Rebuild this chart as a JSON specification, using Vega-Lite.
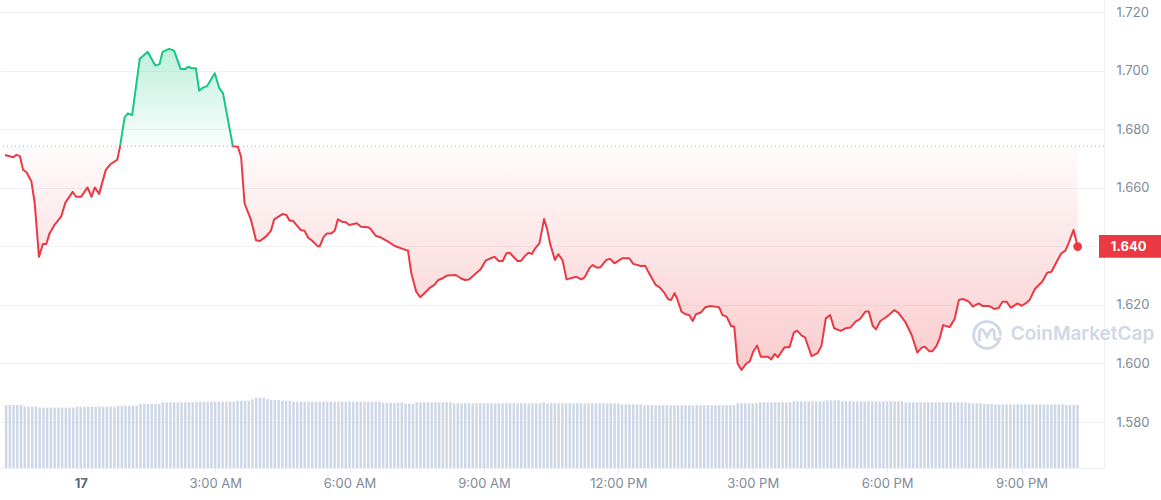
{
"$schema": "https://vega.github.io/schema/vega-lite/v6.json",
"width": 1104, "height": 468, "autosize": {"type": "none"}, "padding": {"left": 0, "top": 0, "right": 57, "bottom": 32},
"background": "white",
"config": {"view": {"stroke": null}, "font": "Inter"},
"datasets": {
"price": [
{"t":-101.5,"p":1.6712},{"t":-90.5,"p":1.6704},{"t":-86.0,"p":1.6712},{"t":-81.6,"p":1.6708},{"t":-77.3,"p":1.6661},{"t":-72.7,"p":1.6653},{"t":-66.1,"p":1.6621},{"t":-61.7,"p":1.6547},{"t":-56.0,"p":1.6364},{"t":-50.7,"p":1.6408},{"t":-46.2,"p":1.6408},{"t":-41.8,"p":1.6444},{"t":-35.2,"p":1.6473},{"t":-26.3,"p":1.6501},{"t":-20.6,"p":1.6549},{"t":-10.9,"p":1.6586},{"t":-6.4,"p":1.6569},{"t":0.3,"p":1.6569},{"t":9.0,"p":1.6601},{"t":14.3,"p":1.6569},{"t":18.9,"p":1.6601},{"t":24.6,"p":1.6579},{"t":33.5,"p":1.6661},{"t":40.1,"p":1.6681},{"t":48.8,"p":1.6695},{"t":52.4,"p":1.6738},{"t":58.7,"p":1.6840},{"t":63.1,"p":1.6854},{"t":68.8,"p":1.6848},{"t":79.0,"p":1.7040},{"t":89.6,"p":1.7064},{"t":99.8,"p":1.7017},{"t":105.5,"p":1.7022},{"t":109.5,"p":1.7064},{"t":118.4,"p":1.7074},{"t":125.0,"p":1.7068},{"t":133.8,"p":1.7005},{"t":139.6,"p":1.7005},{"t":144.0,"p":1.7013},{"t":148.4,"p":1.7008},{"t":154.2,"p":1.7008},{"t":158.6,"p":1.6931},{"t":163.9,"p":1.6942},{"t":169.2,"p":1.6947},{"t":179.5,"p":1.6991},{"t":185.2,"p":1.6942},{"t":190.5,"p":1.6922},{"t":203.7,"p":1.6742},{"t":210.4,"p":1.6740},{"t":214.8,"p":1.6704},{"t":219.3,"p":1.6547},{"t":228.0,"p":1.6490},{"t":234.7,"p":1.6421},{"t":240.0,"p":1.6418},{"t":247.9,"p":1.6433},{"t":254.6,"p":1.6453},{"t":259.1,"p":1.6492},{"t":270.1,"p":1.6510},{"t":275.4,"p":1.6507},{"t":279.8,"p":1.6487},{"t":284.3,"p":1.6487},{"t":294.4,"p":1.6456},{"t":299.7,"p":1.6453},{"t":304.6,"p":1.6429},{"t":309.9,"p":1.6419},{"t":317.9,"p":1.6399},{"t":320.1,"p":1.6401},{"t":325.5,"p":1.6433},{"t":329.8,"p":1.6444},{"t":335.5,"p":1.6444},{"t":340.1,"p":1.6453},{"t":344.4,"p":1.6492},{"t":349.7,"p":1.6484},{"t":355.1,"p":1.6482},{"t":359.4,"p":1.6473},{"t":369.7,"p":1.6479},{"t":375.4,"p":1.6467},{"t":385.2,"p":1.6465},{"t":388.6,"p":1.6458},{"t":394.9,"p":1.6436},{"t":402.8,"p":1.6429},{"t":411.7,"p":1.6416},{"t":420.5,"p":1.6401},{"t":429.4,"p":1.6393},{"t":438.3,"p":1.6385},{"t":442.7,"p":1.6308},{"t":449.3,"p":1.6245},{"t":454.6,"p":1.6226},{"t":460.3,"p":1.6240},{"t":468.3,"p":1.6260},{"t":473.6,"p":1.6268},{"t":478.9,"p":1.6285},{"t":484.7,"p":1.6291},{"t":490.4,"p":1.6300},{"t":502.4,"p":1.6302},{"t":509.0,"p":1.6291},{"t":514.3,"p":1.6285},{"t":520.0,"p":1.6287},{"t":527.6,"p":1.6304},{"t":535.6,"p":1.6322},{"t":542.2,"p":1.6351},{"t":548.8,"p":1.6359},{"t":554.1,"p":1.6364},{"t":559.9,"p":1.6350},{"t":565.2,"p":1.6350},{"t":570.1,"p":1.6376},{"t":574.5,"p":1.6378},{"t":580.7,"p":1.6361},{"t":585.1,"p":1.6350},{"t":589.6,"p":1.6350},{"t":595.3,"p":1.6368},{"t":599.7,"p":1.6378},{"t":604.2,"p":1.6374},{"t":608.6,"p":1.6393},{"t":614.3,"p":1.6410},{"t":620.5,"p":1.6493},{"t":624.9,"p":1.6456},{"t":628.5,"p":1.6410},{"t":635.1,"p":1.6353},{"t":639.5,"p":1.6373},{"t":645.3,"p":1.6353},{"t":650.6,"p":1.6287},{"t":663.9,"p":1.6296},{"t":670.5,"p":1.6287},{"t":674.9,"p":1.6294},{"t":681.6,"p":1.6327},{"t":685.9,"p":1.6336},{"t":690.5,"p":1.6328},{"t":695.8,"p":1.6328},{"t":703.7,"p":1.6353},{"t":709.0,"p":1.6357},{"t":714.7,"p":1.6342},{"t":725.0,"p":1.6359},{"t":734.7,"p":1.6359},{"t":740.0,"p":1.6340},{"t":750.2,"p":1.6333},{"t":755.9,"p":1.6334},{"t":761.2,"p":1.6308},{"t":770.1,"p":1.6268},{"t":775.4,"p":1.6260},{"t":781.1,"p":1.6243},{"t":786.8,"p":1.6219},{"t":790.8,"p":1.6217},{"t":795.3,"p":1.6240},{"t":798.8,"p":1.6220},{"t":804.6,"p":1.6177},{"t":809.9,"p":1.6168},{"t":815.2,"p":1.6165},{"t":819.6,"p":1.6145},{"t":824.0,"p":1.6168},{"t":831.1,"p":1.6175},{"t":836.5,"p":1.6192},{"t":843.1,"p":1.6196},{"t":849.7,"p":1.6194},{"t":855.0,"p":1.6192},{"t":859.4,"p":1.6165},{"t":865.1,"p":1.6160},{"t":871.0,"p":1.6128},{"t":875.3,"p":1.6125},{"t":879.7,"p":1.6000},{"t":885.0,"p":1.5978},{"t":891.7,"p":1.6000},{"t":896.2,"p":1.6008},{"t":900.6,"p":1.6040},{"t":905.9,"p":1.6061},{"t":910.8,"p":1.6023},{"t":920.5,"p":1.6023},{"t":924.9,"p":1.6014},{"t":929.4,"p":1.6032},{"t":933.7,"p":1.6021},{"t":942.6,"p":1.6055},{"t":949.3,"p":1.6055},{"t":955.0,"p":1.6105},{"t":959.4,"p":1.6112},{"t":965.6,"p":1.6095},{"t":970.0,"p":1.6089},{"t":973.6,"p":1.6063},{"t":978.9,"p":1.6025},{"t":986.8,"p":1.6035},{"t":992.1,"p":1.6060},{"t":997.9,"p":1.6154},{"t":1003.7,"p":1.6165},{"t":1009.0,"p":1.6120},{"t":1017.8,"p":1.6111},{"t":1024.4,"p":1.6120},{"t":1031.0,"p":1.6123},{"t":1037.7,"p":1.6143},{"t":1043.5,"p":1.6151},{"t":1050.9,"p":1.6177},{"t":1055.5,"p":1.6177},{"t":1060.8,"p":1.6128},{"t":1065.1,"p":1.6117},{"t":1070.9,"p":1.6145},{"t":1077.5,"p":1.6156},{"t":1082.0,"p":1.6165},{"t":1089.4,"p":1.6182},{"t":1095.3,"p":1.6173},{"t":1104.0,"p":1.6143},{"t":1112.9,"p":1.6097},{"t":1120.5,"p":1.6037},{"t":1126.2,"p":1.6054},{"t":1130.6,"p":1.6057},{"t":1136.4,"p":1.6042},{"t":1140.8,"p":1.6042},{"t":1146.1,"p":1.6060},{"t":1150.5,"p":1.6086},{"t":1155.0,"p":1.6131},{"t":1163.8,"p":1.6124},{"t":1170.4,"p":1.6152},{"t":1176.2,"p":1.6217},{"t":1181.6,"p":1.6220},{"t":1189.5,"p":1.6211},{"t":1194.8,"p":1.6194},{"t":1202.8,"p":1.6205},{"t":1208.1,"p":1.6196},{"t":1216.9,"p":1.6196},{"t":1223.5,"p":1.6186},{"t":1229.3,"p":1.6189},{"t":1234.6,"p":1.6211},{"t":1240.0,"p":1.6211},{"t":1245.7,"p":1.6190},{"t":1254.5,"p":1.6205},{"t":1260.3,"p":1.6197},{"t":1266.5,"p":1.6207},{"t":1270.9,"p":1.6217},{"t":1277.9,"p":1.6254},{"t":1283.2,"p":1.6268},{"t":1287.7,"p":1.6279},{"t":1294.4,"p":1.6310},{"t":1300.1,"p":1.6313},{"t":1307.6,"p":1.6350},{"t":1313.3,"p":1.6376},{"t":1318.7,"p":1.6385},{"t":1323.0,"p":1.6410},{"t":1329.7,"p":1.6456},{"t":1335.2,"p":1.6399}
],
"vol": [
{"t":-100,"v":4.71},{"t":-95,"v":4.71},{"t":-90,"v":4.71},{"t":-85,"v":4.71},{"t":-80,"v":4.71},
{"t":-75,"v":4.60},{"t":-70,"v":4.60},{"t":-65,"v":4.60},{"t":-60,"v":4.60},
{"t":-55,"v":4.52},{"t":-50,"v":4.52},{"t":-45,"v":4.52},{"t":-40,"v":4.52},{"t":-35,"v":4.52},{"t":-30,"v":4.52},{"t":-25,"v":4.52},{"t":-20,"v":4.52},{"t":-15,"v":4.52},{"t":-10,"v":4.52},
{"t":-5,"v":4.58},{"t":0,"v":4.58},{"t":5,"v":4.58},{"t":10,"v":4.58},{"t":15,"v":4.58},{"t":20,"v":4.58},{"t":25,"v":4.58},{"t":30,"v":4.58},{"t":35,"v":4.58},{"t":40,"v":4.58},{"t":45,"v":4.58},
{"t":50,"v":4.66},{"t":55,"v":4.66},{"t":60,"v":4.66},{"t":65,"v":4.66},{"t":70,"v":4.66},{"t":75,"v":4.66},
{"t":80,"v":4.79},{"t":85,"v":4.79},{"t":90,"v":4.79},{"t":95,"v":4.79},{"t":100,"v":4.79},{"t":105,"v":4.79},
{"t":110,"v":4.91},{"t":115,"v":4.91},{"t":120,"v":4.91},{"t":125,"v":4.91},{"t":130,"v":4.91},{"t":135,"v":4.91},{"t":140,"v":4.91},{"t":145,"v":4.91},{"t":150,"v":4.91},
{"t":155,"v":4.96},{"t":160,"v":4.96},{"t":165,"v":4.96},{"t":170,"v":4.96},{"t":175,"v":4.96},{"t":180,"v":4.96},{"t":185,"v":4.96},{"t":190,"v":4.96},{"t":195,"v":4.96},{"t":200,"v":4.96},{"t":205,"v":4.96},
{"t":210,"v":5.03},{"t":215,"v":5.03},{"t":220,"v":5.03},{"t":225,"v":5.03},
{"t":230,"v":5.14},{"t":235,"v":5.26},{"t":240,"v":5.26},{"t":245,"v":5.26},{"t":250,"v":5.16},
{"t":255,"v":5.09},{"t":260,"v":5.09},{"t":265,"v":5.09},{"t":270,"v":5.03},{"t":275,"v":5.03},{"t":280,"v":5.03},
{"t":285,"v":4.96},{"t":290,"v":4.96},{"t":295,"v":4.96},{"t":300,"v":4.96},{"t":305,"v":4.96},{"t":310,"v":4.96},{"t":315,"v":4.96},{"t":320,"v":4.96},{"t":325,"v":4.96},{"t":330,"v":4.96},{"t":335,"v":4.96},{"t":340,"v":4.96},{"t":345,"v":4.96},{"t":350,"v":4.96},{"t":355,"v":4.96},{"t":360,"v":4.96},{"t":365,"v":4.96},{"t":370,"v":4.96},{"t":375,"v":4.96},{"t":380,"v":4.96},{"t":385,"v":4.96},{"t":390,"v":4.96},{"t":395,"v":4.96},{"t":400,"v":4.96},
{"t":405,"v":4.88},{"t":410,"v":4.88},{"t":415,"v":4.88},{"t":420,"v":4.88},{"t":425,"v":4.88},{"t":430,"v":4.88},
{"t":435,"v":4.81},{"t":440,"v":4.81},{"t":445,"v":4.81},
{"t":450,"v":4.91},{"t":455,"v":4.91},{"t":460,"v":4.91},{"t":465,"v":4.91},{"t":470,"v":4.91},{"t":475,"v":4.91},{"t":480,"v":4.91},{"t":485,"v":4.91},{"t":490,"v":4.91},{"t":495,"v":4.91},
{"t":500,"v":4.84},{"t":505,"v":4.84},{"t":510,"v":4.84},{"t":515,"v":4.84},{"t":520,"v":4.84},{"t":525,"v":4.84},{"t":530,"v":4.84},{"t":535,"v":4.84},{"t":540,"v":4.84},{"t":545,"v":4.84},{"t":550,"v":4.84},{"t":555,"v":4.84},{"t":560,"v":4.84},{"t":565,"v":4.84},{"t":570,"v":4.84},{"t":575,"v":4.84},{"t":580,"v":4.84},{"t":585,"v":4.84},{"t":590,"v":4.84},{"t":595,"v":4.84},{"t":600,"v":4.84},{"t":605,"v":4.84},{"t":610,"v":4.84},{"t":615,"v":4.84},
{"t":620,"v":4.91},
{"t":625,"v":4.84},{"t":630,"v":4.84},{"t":635,"v":4.84},{"t":640,"v":4.84},{"t":645,"v":4.84},{"t":650,"v":4.84},{"t":655,"v":4.84},{"t":660,"v":4.84},{"t":665,"v":4.84},{"t":670,"v":4.84},{"t":675,"v":4.84},{"t":680,"v":4.84},{"t":685,"v":4.84},{"t":690,"v":4.84},{"t":695,"v":4.84},{"t":700,"v":4.84},{"t":705,"v":4.84},{"t":710,"v":4.84},{"t":715,"v":4.84},{"t":720,"v":4.84},
{"t":725,"v":4.76},{"t":730,"v":4.76},{"t":735,"v":4.76},{"t":740,"v":4.76},{"t":745,"v":4.76},{"t":750,"v":4.76},
{"t":755,"v":4.70},{"t":760,"v":4.70},{"t":765,"v":4.70},{"t":770,"v":4.70},{"t":775,"v":4.70},{"t":780,"v":4.70},{"t":785,"v":4.70},{"t":790,"v":4.70},{"t":795,"v":4.70},{"t":800,"v":4.70},{"t":805,"v":4.70},{"t":810,"v":4.70},{"t":815,"v":4.70},{"t":820,"v":4.70},{"t":825,"v":4.70},{"t":830,"v":4.70},{"t":835,"v":4.70},{"t":840,"v":4.70},{"t":845,"v":4.70},{"t":850,"v":4.70},{"t":855,"v":4.70},{"t":860,"v":4.70},{"t":865,"v":4.70},{"t":870,"v":4.70},{"t":875,"v":4.70},
{"t":880,"v":4.84},{"t":885,"v":4.84},{"t":890,"v":4.84},{"t":895,"v":4.84},{"t":900,"v":4.84},{"t":905,"v":4.84},
{"t":910,"v":4.91},{"t":915,"v":4.91},{"t":920,"v":4.91},{"t":925,"v":4.91},{"t":930,"v":4.91},{"t":935,"v":4.91},{"t":940,"v":4.91},{"t":945,"v":4.91},{"t":950,"v":4.91},
{"t":955,"v":4.99},{"t":960,"v":4.99},{"t":965,"v":4.99},{"t":970,"v":4.99},{"t":975,"v":4.99},{"t":980,"v":4.99},{"t":985,"v":4.99},{"t":990,"v":4.99},{"t":995,"v":4.99},
{"t":1000,"v":5.06},{"t":1005,"v":5.06},{"t":1010,"v":5.06},{"t":1015,"v":5.06},
{"t":1020,"v":4.99},{"t":1025,"v":4.99},{"t":1030,"v":4.99},{"t":1035,"v":4.99},{"t":1040,"v":4.99},{"t":1045,"v":4.99},{"t":1050,"v":4.99},{"t":1055,"v":4.99},{"t":1060,"v":4.99},{"t":1065,"v":4.99},{"t":1070,"v":4.99},{"t":1075,"v":4.99},{"t":1080,"v":4.99},{"t":1085,"v":4.99},{"t":1090,"v":4.99},{"t":1095,"v":4.99},{"t":1100,"v":4.99},
{"t":1105,"v":4.91},{"t":1110,"v":4.91},{"t":1115,"v":4.91},{"t":1120,"v":4.91},{"t":1125,"v":4.91},{"t":1130,"v":4.91},{"t":1135,"v":4.91},{"t":1140,"v":4.91},{"t":1145,"v":4.91},{"t":1150,"v":4.91},{"t":1155,"v":4.91},{"t":1160,"v":4.91},{"t":1165,"v":4.91},{"t":1170,"v":4.91},{"t":1175,"v":4.91},{"t":1180,"v":4.91},{"t":1185,"v":4.91},
{"t":1190,"v":4.84},{"t":1195,"v":4.84},{"t":1200,"v":4.84},{"t":1205,"v":4.84},
{"t":1210,"v":4.79},{"t":1215,"v":4.79},{"t":1220,"v":4.79},
{"t":1225,"v":4.76},{"t":1230,"v":4.76},{"t":1235,"v":4.76},{"t":1240,"v":4.76},{"t":1245,"v":4.76},{"t":1250,"v":4.76},{"t":1255,"v":4.76},{"t":1260,"v":4.76},{"t":1265,"v":4.76},{"t":1270,"v":4.76},{"t":1275,"v":4.76},{"t":1280,"v":4.76},{"t":1285,"v":4.76},{"t":1290,"v":4.76},{"t":1295,"v":4.76},{"t":1300,"v":4.76},{"t":1305,"v":4.76},{"t":1310,"v":4.76},{"t":1315,"v":4.76},
{"t":1320,"v":4.71},{"t":1325,"v":4.71},{"t":1330,"v":4.71},{"t":1335,"v":4.71}
],
"last": [{"t":1335.2,"p":1.6399,"label":"1.640"}]
},
"resolve": {"scale": {"y": "independent"}},
"layer": [
{
"data": {"name": "vol"},
"mark": {"type": "bar", "orient": "vertical", "width": 2.5, "color": "#c6d0e2", "opacity": 0.85},
"encoding": {
"x": {"field": "t", "type": "quantitative", "title": null, "scale": {"domain": [-101.5, 1363.8], "nice": false, "zero": false},
"axis": {"values": [0,180,360,540,720,900,1080,1260], "title": null, "grid": false,
"labelExpr": "datum.value == 0 ? '17' : ((floor(datum.value/60) % 12 == 0 ? 12 : floor(datum.value/60) % 12) + ':00 ' + (datum.value < 720 ? 'AM' : 'PM'))",
"domain": true, "domainColor": "#eceff3", "ticks": true, "tickSize": 4, "tickColor": "#e3e6eb",
"labelFont": "Inter", "labelFontSize": 13, "labelPadding": 5, "labelFlush": false,
"labelColor": {"condition": {"test": "datum.value == 0", "value": "#58667e"}, "value": "#808a9d"},
"labelFontWeight": {"condition": {"test": "datum.value == 0", "value": 700}, "value": 400}}},
"y": {"field": "v", "type": "quantitative", "title": null, "scale": {"domain": [0, 35], "nice": false}, "axis": null}
}
},
{
"layer": [
{
"data": {"name": "price"},
"mark": {"type": "area", "fill": {"gradient": "linear", "x1": 0, "y1": 0, "x2": 0, "y2": 1, "stops": [
{"offset": 0, "color": "rgba(22,199,132,0.28)"},
{"offset": 0.303, "color": "rgba(22,199,132,0.02)"},
{"offset": 0.303, "color": "rgba(234,57,67,0.02)"},
{"offset": 1, "color": "rgba(234,57,67,0.26)"}]}},
"encoding": {
"x": {"field": "t", "type": "quantitative", "title": null, "scale": {"domain": [-101.5, 1363.8], "nice": false, "zero": false}},
"y": {"field": "p", "type": "quantitative", "title": null, "scale": {"domain": [1.5643, 1.7241], "nice": false, "zero": false},
"axis": {"orient": "right", "values": [1.58, 1.6, 1.62, 1.64, 1.66, 1.68, 1.7, 1.72], "title": null,
"labelExpr": "(datum.value > 1.639 && datum.value < 1.641) ? '' : format(datum.value, '.3f')",
"grid": true, "gridColor": "#f0f2f5", "domain": true, "domainColor": "#eceff3", "ticks": false,
"labelPadding": 12, "labelFont": "Inter", "labelFontSize": 13, "labelColor": "#808a9d", "labelBaseline": "middle"}},
"y2": {"datum": 1.6742}
}
},
{
"data": {"values": [{}]},
"mark": {"type": "point", "shape": "M0.88,0.46 A0.96,0.96 0 1 1 0.96,0.05 M-0.55,0.45 L-0.55,0.0 Q-0.5,-0.5 -0.22,-0.2 L0,0.2 L0.22,-0.2 Q0.5,-0.5 0.52,0.0 L0.52,0.25 Q0.6,0.55 0.92,0.3", "size": 784, "filled": false, "stroke": "#d0d7e5", "strokeWidth": 2.8, "opacity": 1, "strokeCap": "round"},
"encoding": {
"x": {"datum": 1213.8, "type": "quantitative", "title": null, "scale": {"domain": [-101.5, 1363.8], "nice": false, "zero": false}},
"y": {"datum": 1.6101, "type": "quantitative", "title": null, "scale": {"domain": [1.5643, 1.7241], "nice": false, "zero": false}}
}
},
{
"data": {"values": [{}]},
"mark": {"type": "text", "text": "CoinMarketCap", "align": "left", "baseline": "middle", "font": "Inter", "fontSize": 19, "fontWeight": 600, "color": "#d0d7e5"},
"encoding": {
"x": {"datum": 1245.6, "type": "quantitative", "title": null, "scale": {"domain": [-101.5, 1363.8], "nice": false, "zero": false}},
"y": {"datum": 1.6101, "type": "quantitative", "title": null, "scale": {"domain": [1.5643, 1.7241], "nice": false, "zero": false}}
}
},
{
"data": {"values": [{}]},
"mark": {"type": "rule", "color": "#a8afbb", "strokeDash": [1, 3], "strokeWidth": 1},
"encoding": {
"y": {"datum": 1.6742, "type": "quantitative", "title": null, "scale": {"domain": [1.5643, 1.7241], "nice": false, "zero": false}}
}
},
{
"data": {"name": "price"},
"mark": {"type": "line", "strokeWidth": 2, "strokeJoin": "round", "stroke": {"gradient": "linear", "x1": 0, "y1": 0, "x2": 0, "y2": 1, "stops": [
{"offset": 0, "color": "#16c784"},
{"offset": 0.303, "color": "#16c784"},
{"offset": 0.303, "color": "#ea3943"},
{"offset": 1, "color": "#ea3943"}]}},
"encoding": {
"x": {"field": "t", "type": "quantitative", "title": null, "scale": {"domain": [-101.5, 1363.8], "nice": false, "zero": false}},
"y": {"field": "p", "type": "quantitative", "title": null, "scale": {"domain": [1.5643, 1.7241], "nice": false, "zero": false}}
}
},
{
"data": {"name": "last"},
"mark": {"type": "circle", "size": 75, "color": "#ea3943", "opacity": 1},
"encoding": {
"x": {"field": "t", "type": "quantitative", "title": null, "scale": {"domain": [-101.5, 1363.8], "nice": false, "zero": false}},
"y": {"field": "p", "type": "quantitative", "title": null, "scale": {"domain": [1.5643, 1.7241], "nice": false, "zero": false}}
}
},
{
"data": {"values": [{}]},
"mark": {"type": "rect", "color": "#ea3943"},
"encoding": {
"x": {"datum": 1363.8, "type": "quantitative", "title": null, "scale": {"domain": [-101.5, 1363.8], "nice": false, "zero": false}},
"x2": {"datum": 1450},
"y": {"datum": 1.6439, "type": "quantitative", "title": null, "scale": {"domain": [1.5643, 1.7241], "nice": false, "zero": false}},
"y2": {"datum": 1.6361}
}
},
{
"data": {"name": "last"},
"mark": {"type": "text", "align": "left", "baseline": "middle", "font": "Inter", "fontSize": 13, "fontWeight": 700, "color": "#ffffff"},
"encoding": {
"x": {"datum": 1379.7, "type": "quantitative", "title": null, "scale": {"domain": [-101.5, 1363.8], "nice": false, "zero": false}},
"y": {"field": "p", "type": "quantitative", "title": null, "scale": {"domain": [1.5643, 1.7241], "nice": false, "zero": false}},
"text": {"field": "label"}
}
}
]
}
]
}
